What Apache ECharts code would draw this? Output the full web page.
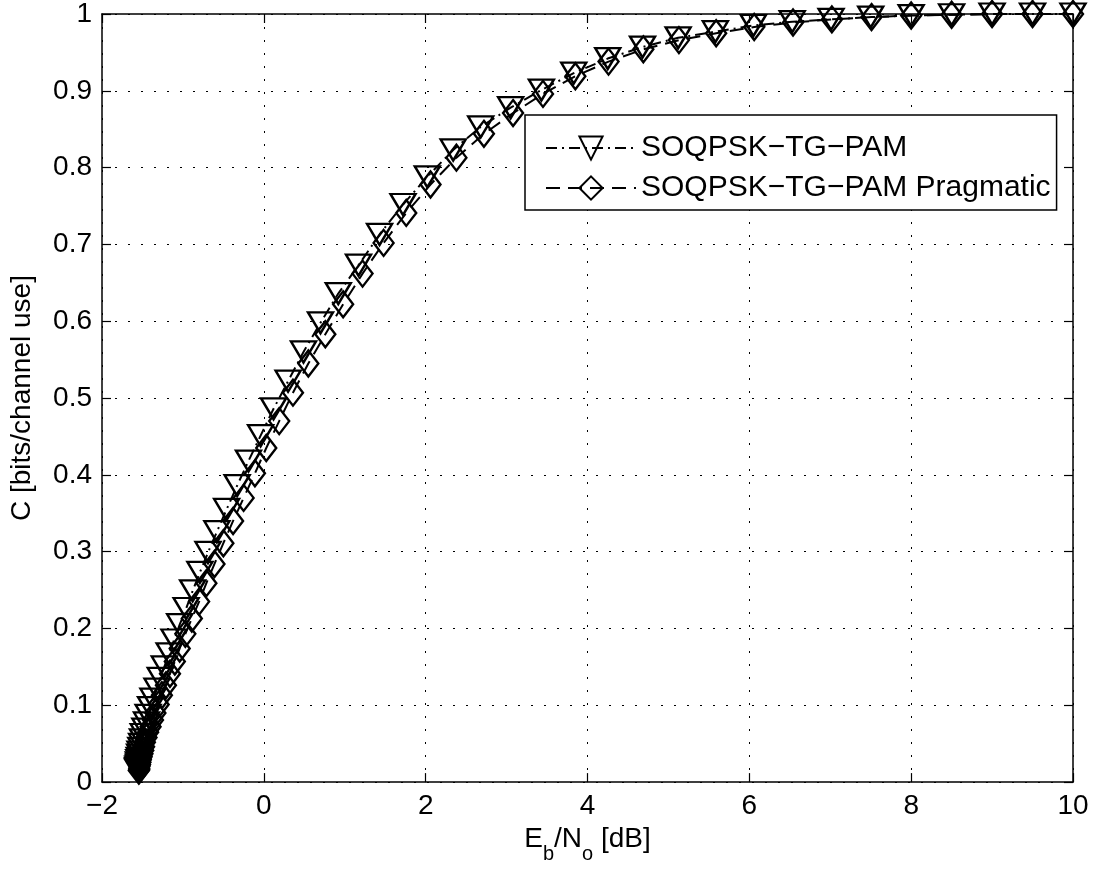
<!DOCTYPE html>
<html>
<head>
<meta charset="utf-8">
<title>SOQPSK-TG capacity</title>
<script src="https://cdn.jsdelivr.net/npm/echarts/dist/echarts.min.js"></script>
<style>
  html, body { margin: 0; padding: 0; background: #fff; }
  #chart { width: 1094px; height: 869px; }
</style>
</head>
<body>
<div id="chart"></div>
<script>
// Eb/No [dB] and capacity C [bits/channel use], SOQPSK-TG-PAM
const tgEbNo = [10.0, 9.5, 9.0, 8.5, 8.0, 7.5, 7.01, 6.53, 6.05, 5.58, 5.12, 4.68, 4.25, 3.83, 3.43, 3.05, 2.68,
  2.34, 2.02, 1.72, 1.43, 1.17, 0.92, 0.70, 0.49, 0.30, 0.12, -0.04, -0.19, -0.33, -0.46, -0.58, -0.69,
  -0.79, -0.88, -0.96, -1.04, -1.11, -1.17, -1.23, -1.28, -1.32, -1.37, -1.40, -1.43, -1.45, -1.47, -1.49,
  -1.50, -1.51, -1.52, -1.53, -1.535, -1.54, -1.545, -1.55, -1.55, -1.555, -1.56, -1.56];
const tgC = [1.0, 1.0, 1.0, 0.999, 0.998, 0.996, 0.993, 0.990, 0.985, 0.977, 0.969, 0.957, 0.942, 0.923, 0.901, 0.878, 0.853,
  0.823, 0.788, 0.752, 0.713, 0.673, 0.636, 0.598, 0.560, 0.522, 0.486, 0.451, 0.418, 0.386, 0.355, 0.326, 0.299,
  0.273, 0.249, 0.226, 0.205, 0.185, 0.167, 0.150, 0.135, 0.121, 0.108, 0.097, 0.087, 0.077, 0.069, 0.062,
  0.055, 0.049, 0.044, 0.039, 0.035, 0.031, 0.028, 0.025, 0.022, 0.020, 0.018, 0.016];

// Eb/No [dB] and capacity C [bits/channel use], SOQPSK-TG-PAM Pragmatic
const pragEbNo = [10.0, 9.5, 9.0, 8.5, 8.0, 7.51, 7.02, 6.54, 6.06, 5.59, 5.13, 4.69, 4.26, 3.85, 3.45, 3.08, 2.72,
  2.38, 2.06, 1.76, 1.48, 1.22, 0.98, 0.76, 0.55, 0.36, 0.19, 0.03, -0.11, -0.25, -0.38, -0.50, -0.61,
  -0.71, -0.80, -0.89, -0.97, -1.04, -1.10, -1.16, -1.21, -1.26, -1.30, -1.34, -1.37, -1.40, -1.43, -1.45,
  -1.47, -1.48, -1.49, -1.50, -1.51, -1.52, -1.525, -1.53, -1.535, -1.54, -1.54, -1.545];
const pragC = [1.0, 1.0, 1.0, 0.999, 0.998, 0.996, 0.993, 0.989, 0.983, 0.975, 0.966, 0.954, 0.938, 0.919, 0.896, 0.871, 0.844,
  0.813, 0.778, 0.741, 0.702, 0.662, 0.622, 0.583, 0.545, 0.507, 0.470, 0.435, 0.402, 0.370, 0.340, 0.311, 0.284,
  0.259, 0.235, 0.213, 0.193, 0.174, 0.157, 0.141, 0.126, 0.113, 0.101, 0.090, 0.081, 0.072, 0.065, 0.058,
  0.052, 0.046, 0.041, 0.037, 0.033, 0.029, 0.026, 0.023, 0.021, 0.018, 0.016, 0.015];

const seriesNames = ['SOQPSK\u2212TG\u2212PAM', 'SOQPSK\u2212TG\u2212PAM Pragmatic'];

const xMin = -2, xMax = 10, xStep = 2;
const yMin = 0, yMax = 1, yStep = 0.1;

const FONT = 'Liberation Sans, Arial, Helvetica, sans-serif';
const FS = 28;

function pairs(xs, ys) { return xs.map((x, i) => [x, ys[i]]); }
function minusSign(v) { return String(v).replace('-', '\u2212'); }

const gridLine = { show: true, lineStyle: { color: '#000', width: 1, type: [2, 11] } };
const axisLine = { show: true, onZero: false, lineStyle: { color: '#000', width: 1.5 } };
const tick = { show: true, inside: true, length: 9, lineStyle: { color: '#000', width: 1.2 } };

const chart = echarts.init(document.getElementById('chart'), null, { renderer: 'canvas' });

chart.setOption({
  backgroundColor: '#fff',
  animation: false,
  grid: { left: 102, right: 21, top: 14, bottom: 84, containLabel: false },
  xAxis: [
    {
      type: 'value', min: xMin, max: xMax, interval: xStep, position: 'bottom',
      axisLine, axisTick: tick, splitLine: gridLine,
      axisLabel: { color: '#000', fontFamily: FONT, fontSize: FS, margin: 10, formatter: minusSign },
      name: '{n|E}{s|b}{n|/N}{s|o}{n| [dB]}', nameLocation: 'middle', nameGap: 40,
      nameTextStyle: {
        color: '#000', fontFamily: FONT,
        rich: {
          n: { fontSize: FS, fontFamily: FONT, color: '#000', verticalAlign: 'bottom', lineHeight: 30 },
          s: { fontSize: 20, fontFamily: FONT, color: '#000', verticalAlign: 'bottom', lineHeight: 30, padding: [0, 0, -11, 0] }
        }
      }
    },
    {
      type: 'value', min: xMin, max: xMax, interval: xStep, position: 'top',
      axisLine, axisTick: tick, axisLabel: { show: false }, splitLine: { show: false }
    }
  ],
  yAxis: [
    {
      type: 'value', min: yMin, max: yMax, interval: yStep, position: 'left',
      axisLine, axisTick: tick, splitLine: gridLine,
      axisLabel: { color: '#000', fontFamily: FONT, fontSize: FS, margin: 10,
        formatter: v => String(Math.round(v * 10) / 10) },
      name: 'C [bits/channel use]', nameLocation: 'middle', nameGap: 66, nameRotate: 90,
      nameTextStyle: { color: '#000', fontFamily: FONT, fontSize: FS }
    },
    {
      type: 'value', min: yMin, max: yMax, interval: yStep, position: 'right',
      axisLine, axisTick: tick, axisLabel: { show: false }, splitLine: { show: false }
    }
  ],
  legend: {
    orient: 'vertical', left: 525, top: 115,
    backgroundColor: '#fff', borderColor: '#000', borderWidth: 1.5,
    padding: [18, 6, 7, 20], itemGap: 10, itemWidth: 90, itemHeight: 29,
    textStyle: { color: '#000', fontFamily: FONT, fontSize: 30 },
    data: seriesNames
  },
  series: [
    {
      name: seriesNames[0], type: 'line', data: pairs(tgEbNo, tgC), clip: false,
      symbol: 'triangle', symbolRotate: 180, symbolSize: [25, 21],
      lineStyle: { color: '#000', width: 2, type: [11, 5, 2, 5] },
      itemStyle: { color: 'rgba(255,255,255,0)', borderColor: '#000', borderWidth: 2.4 },
      emphasis: { disabled: true }, z: 3
    },
    {
      name: seriesNames[1], type: 'line', data: pairs(pragEbNo, pragC), clip: false,
      symbol: 'diamond', symbolSize: [20, 26],
      lineStyle: { color: '#000', width: 2, type: [14, 8] },
      itemStyle: { color: 'rgba(255,255,255,0)', borderColor: '#000', borderWidth: 2.4 },
      emphasis: { disabled: true }, z: 2
    }
  ]
});
</script>
</body>
</html>
